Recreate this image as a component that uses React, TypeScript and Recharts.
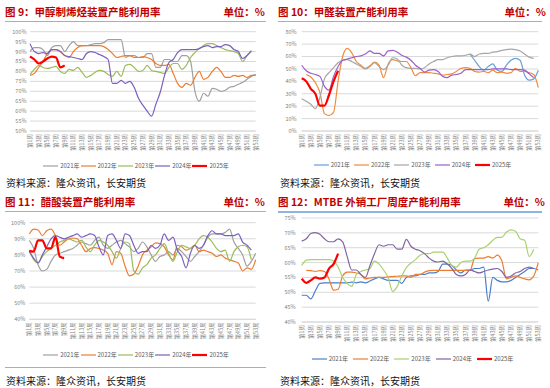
import React from "react";
import { CartesianGrid, Legend, Line, LineChart, XAxis, YAxis } from "recharts";

const weeks = Array.from({ length: 53 }, (_, i) => `第${i + 1}周`);

// 图9 甲醇制烯烃
const olefin2021 = [
  90, 92, 92, 91, 88, 92, 93, 93, 90, 93,
  95, 93, 93, 93, 93.5, 94, 94, 94.5, 96, 96,
  96, 96, 87, 88, 88, 87, 87, 89, 89, 82,
  82, 86, 86, 85, 85, 88, 88, 85,
  70, 65, 69, 67.5, 71.5, 71, 70, 70.5, 72, 72.5, 73.5, 74.5, 76, 77.5, 78.5,
];
const olefin2022 = [
  78, 79, 82, 85, 89, 91, 91, 90, 88, 87,
  90, 92, 93, 93, 93, 93, 93, 92.5, 91, 89,
  87, 87.5, 88, 88, 87, 87, 87.5, 87, 86, 84,
  83, 83, 83.5, 79, 74, 72, 74, 73, 77, 80,
  76, 77, 80, 82, 80, 77, 77, 78, 77.5, 78,
  77, 78, 78,
];
const olefin2023 = [
  78.5, 81, 83, 82, 81.5, 82, 82.5, 80, 79, 81,
  80.5, 82, 79.5, 77, 78, 79.5, 80.5, 80, 78.5, 77.5,
  80, 77.5, 83, 83.5, 82, 80, 80.5, 83, 80.5, 80,
  79.5, 79, 82, 84, 84, 81, 83, 87, 89.5, 91.5,
  93, 94, 94, 93, 92, 91, 90.5, 90, 89, 85,
  88, 90, null,
];
const olefin2024 = [
  94, 90, 89, 89.5, 89, 91, 91, 90, 88, 87.5,
  87, 86.5, 86, 89, 90, 89.5, 88.5, 87.5, 86, 74,
  74, 75.5, 74, 75, 72, 66.5, 63, 60, 57.5, 63.5,
  69.5, 78, 84.5, 86, 89.5, 91, 91, 91, 91, 91.5,
  92.5, 93, 92, 92.5, 92.5, 93.5, 93, 91, 90, 86.5,
  88, 90.5, null,
];
const olefin2025 = [87.5, 86, 84, 85, 86.5, 87.5, 87, 82, 83];

// 图10 甲醛
const formaldehyde2021 = [
  null, null, null, null, null, null, null, null, null, null,
  null, null, null, null, null, null, null, null, null, null,
  null, null, null, null, null, null, null, null, null, null,
  null, null, null, null, null, null, null,
  62, 57, 52, 49, 52, 54, 49, 48, 53, 57, 58.5, 57, 45, 41, 42, 49,
];
const formaldehyde2022 = [
  null, 45.5, 43.5, 39, 31, 14, 12.5, 15, 40, 60,
  66.5, 63, 56, 53, 50.5, 52.5, 55.5, 53, 43, 54,
  57.5, 56.5, 56, 56, 51, 44.5, 47, 47, 47, 46.5,
  46, 45, 45.5, 46, 48, 50.5, 51, 50.5, 48, 47.5,
  48, 47, 49, 47, 47.5, 46.5, 47, 50.5, 48, 48,
  47, 45.5, 35,
];
const formaldehyde2023 = [
  26, 24, 21.5, 18, 27, 42, 47, 51, 55, 57,
  57.5, 56, 54, 52, 50, 52, 55, 52, 49.5, 53,
  59, 58, 53, 51, 50.5, 50.5, 50, 51, 54, 56,
  57.5, 57.5, 59, 60, 60.5, 60.5, 61, 62, 60, 62,
  62.5, 62.5, 63.5, 64, 65, 65.5, 66, 65.5, 64.5, 62,
  59.5, 58.5, null,
];
const formaldehyde2024 = [
  53, 48.5, 46.5, 45.5, 44, 36, 33, 44, 52, 57,
  58, 59, 60, 60.5, 62, 64.5, 62.5, 62.5, 60.5, 64.5,
  65, 63.5, 61, 59.5, 57, 53, 50.5, 47.5, 49, 49.5,
  48, 44, 43, 45, 45.5, 46.5, 49.5, 49.5, 49.5, 49.5,
  49.5, 49.5, 50, 50, 50, 50, 49.5, 49.5, 49.5, 49,
  46, 43, null,
];
const formaldehyde2025 = [42.5, 40, 34, 30, 20.5, 20.5, 29, 40, 48.5];

// 图11 醋酸
const acetic2021 = [
  89, 84, 74, 70, 71, 76, 80, 81, 82, 83,
  84, 86, 88, 87, 86, 89, 91, 86, 84, 86,
  88, 89, 87, 85, 82, 84, 88, 85, 80, 76,
  79, 80, 82, 80, 84, 82, 79, 76, 79, 82,
  86, 91, 93, 93, 93, 94, 96, 88, 84, 80,
  73, 76, 81,
];
const acetic2022 = [
  93, 96, 95.5, 92, 95, 96, 92, 86, 88, 90,
  90.5, 90, 86, 82, 84, 84.5, 84, 83, 81, 74,
  82, 81, 73, 67, 68, 73, 80, 83, 85, 87.5,
  87, 85, 80, 77, 86, 85, 83, 84, 86, 82,
  83, 82, 81, 79, 80, 78, 77, 76, 75, 70,
  72, 71, 77,
];
const acetic2023 = [
  83, 77, 75, 79, 82, 84, 86, 88, 89, 90,
  89, 88, 89, 85, 82, 86, 89, 88, 86, 82,
  78, 84, 88, 87, 70, 68, 72, 74, 78, 80,
  84, 87, 81, 76, 82, 86, 85, 84, 86, 90,
  92, 91, 88, 84, 82, 83, 76, 82, 85, 86,
  85, 77, null,
];
const acetic2024 = [
  82, 78, 75, 80, 85, 90, 92, 91, 90, 91,
  92, 93, 91, 92, 93, 92, 85, 80, 92, 93,
  89, 84, 93, 92, 86, 81, 82, 82, 86, 84,
  86, 93, 89, 91, 83, 79, 72, 81, 86, 84,
  86, 92, 95, 93, 93, 92, 92, 92, 93, 88,
  86, 83, null,
];
const acetic2025 = [82.5, 82, 89, 89, 84, 84, 91, 79, 78];

// 图12 MTBE
const mtbe2021 = [
  49, 49, 47.8, 50.5, 53, 53.2, 53.2, 53.2, 53.2, 53.2,
  53.2, 53.4, 53.2, 53.5, 53.2, 53.8, 54.5, 55, 54.5, 54,
  54, 54, 53, 55, 55.5, 55.5, 56, 56, 56.5, 56.5,
  57, 59.5, 59.5, 59, 57.5, 56.5, 57.5, 57.5, 58, 58,
  58.5, 47, 55, 54, 53.5, 53.5, 54, 55, 56, 57,
  58, 58, 57.5,
];
const mtbe2022 = [
  null, 57.4, 57.3, 57, 57.3, 57, 54.5, 50.7, 51, 55.5,
  56.8, 56.8, 56.5, 56, 54.5, 54.8, 55, 55, 55, 55.2,
  55.3, 55.4, 55.5, 55.5, 55, 56, 56, 56.8, 57.3, 57.4,
  57.4, 57.4, 57.4, 57.4, 57.4, 57.4, 57.4, 57.4, 61.3, 61.5,
  61.5, 62, 61.5, 62.5, 60.5, 54.5, 55, 55.5, 55, 54.5,
  54.2, 55.5, 60,
];
const mtbe2023 = [
  59, 60.8, 61, 61, 61, 61, 61, 60.5, 58.5, 55,
  53, 52, 56, 57, 57.5, 58, 60.5, 59.5, 57.5, 55,
  50.3, 52, 55.5, 58.3, 59.8, 61, 62.5, 63, 63, 63.5,
  63.5, 63.5, 61.5, 59, 58.5, 60, 60.5, 60.5, 61.5, 64.5,
  65, 66, 67.5, 68.5, 68.5, 70.3, 71, 70.5, 68, 67.5,
  62, 64.5, null,
];
const mtbe2024 = [
  67.2, 68, 69.8, 70.1, 69.5, 68, 67, 67, 68, 67,
  62, 57.5, 57.5, 56, 55, 59, 63, 66, 65.5, 66,
  66, 64.5, 64.5, 67.8, 65.5, 64.5, 64, 63, 61.5, 60.5,
  60.2, 60.5, 59.5, 58, 56, 55.5, 56, 57.5, 57, 56.5,
  57, 57.5, 57.8, 58, 57, 55, 55.5, 56.5, 57, 58,
  58.5, 58, null,
];
const mtbe2025 = [54.6, 53.2, 54, 55, 54.6, 55, 58, 59.5, 63];

const years = ["2021年", "2022年", "2023年", "2024年", "2025年"];

const ticks9 = [50, 55, 60, 65, 70, 75, 80, 85, 90, 95, 100];
const ticks10 = [0, 10, 20, 30, 40, 50, 60, 70, 80];
const ticks11 = [40, 50, 60, 70, 80, 90, 100];
const ticks12 = [40, 45, 50, 55, 60, 65, 70, 75];

type Series = { key: string; name: string; color: string; width: number; values: (number | null)[] };

const makeSeries = (values: (number | null)[][], colors: string[]): Series[] =>
  values.map((v, i) => ({
    key: `y${i}`,
    name: years[i],
    color: colors[i],
    width: i === 4 ? 2.2 : 1.2,
    values: v,
  }));

const FONT = '"Noto Sans CJK SC", "Noto Sans", sans-serif';

const WeekTick = (props: any) => {
  const { x, y, payload } = props;
  return (
    <text
      x={x}
      y={y}
      transform={`rotate(-90 ${x} ${y})`}
      textAnchor="end"
      dominantBaseline="central"
      fontSize={5.5}
      fill="#7f7f7f"
      fontFamily={FONT}
    >
      {payload.value}
    </text>
  );
};

type PanelProps = {
  left: number;
  top: number;
  width: number;
  series: Series[];
  ticks: number[];
  yWidth: number;
  tickGap: number;
  margin: { top: number; right: number; bottom: number; left: number };
  legendTop: number;
  legendGap: number;
};

function Panel({ left, top, width, series, ticks, yWidth, tickGap, margin, legendTop, legendGap }: PanelProps) {
  const rows = weeks.map((week, i) => {
    const row: Record<string, string | number | null> = { week };
    series.forEach((s) => {
      row[s.key] = s.values[i] ?? null;
    });
    return row;
  });

  const legend = () => (
    <div
      style={{
        display: "flex",
        justifyContent: "center",
        alignItems: "center",
        gap: legendGap,
        fontSize: 6,
        lineHeight: "8px",
        color: "#595959",
        fontFamily: FONT,
      }}
    >
      {series.map((s) => (
        <span key={s.key} style={{ display: "flex", alignItems: "center", gap: 2 }}>
          <svg width={15} height={4}>
            <line x1={0} y1={2} x2={15} y2={2} stroke={s.color} strokeWidth={s.width} />
          </svg>
          {s.name}
        </span>
      ))}
    </div>
  );

  return (
    <div style={{ position: "absolute", left, top }}>
      <LineChart width={width} height={150} data={rows} margin={margin}>
        <CartesianGrid vertical={false} stroke="#d9d9d9" />
        <XAxis
          dataKey="week"
          interval={1}
          tick={<WeekTick />}
          tickLine={false}
          tickSize={0}
          tickMargin={3}
          height={25}
          axisLine={{ stroke: "#d9d9d9" }}
        />
        <YAxis
          domain={[ticks[0], ticks[ticks.length - 1]]}
          ticks={ticks}
          width={yWidth}
          axisLine={false}
          tickLine={false}
          tickSize={0}
          tickMargin={tickGap}
          tickFormatter={(v) => `${v}%`}
          tick={{ fontSize: 5.5, fill: "#7f7f7f", fontFamily: FONT }}
          interval={0}
        />
        <Legend
          verticalAlign="middle"
          align="center"
          content={legend}
          wrapperStyle={{ top: legendTop, left: 0, width }}
        />
        {series.map((s) => (
          <Line
            key={s.key}
            dataKey={s.key}
            name={s.name}
            type="monotone"
            stroke={s.color}
            strokeWidth={s.width}
            dot={false}
            activeDot={false}
            isAnimationActive={false}
          />
        ))}
      </LineChart>
    </div>
  );
}

const titleStyle: React.CSSProperties = {
  position: "absolute",
  fontSize: 10.5,
  lineHeight: "14px",
  fontWeight: 700,
  color: "#c00000",
  fontFamily: FONT,
  whiteSpace: "pre",
};

const sourceStyle: React.CSSProperties = {
  position: "absolute",
  fontSize: 10,
  lineHeight: "14px",
  color: "#111",
  fontFamily: FONT,
  whiteSpace: "pre",
};

const rule = (left: number, top: number, width: number) => (
  <div style={{ position: "absolute", left, top, width, height: 1.5, background: "#8eb4e3" }} />
);

export default function App() {
  const s9 = makeSeries(
    [olefin2021, olefin2022, olefin2023, olefin2024, olefin2025],
    ["#a0a0a0", "#ed7d31", "#9bbb59", "#7b5fbf", "#ff0000"]
  );
  const s10 = makeSeries(
    [formaldehyde2021, formaldehyde2022, formaldehyde2023, formaldehyde2024, formaldehyde2025],
    ["#6a9fd8", "#f08c3c", "#a6a6a6", "#9a5fc9", "#ff0000"]
  );
  const s11 = makeSeries(
    [acetic2021, acetic2022, acetic2023, acetic2024, acetic2025],
    ["#a0a0a0", "#ed7d31", "#9bbb59", "#7b5fbf", "#ff0000"]
  );
  const s12 = makeSeries(
    [mtbe2021, mtbe2022, mtbe2023, mtbe2024, mtbe2025],
    ["#4a7ecb", "#ed7d31", "#a9d16e", "#8064a2", "#ff0000"]
  );

  return (
    <div
      style={{
        position: "absolute",
        left: 0,
        top: 0,
        width: 550,
        height: 388,
        background: "#fff",
        overflow: "hidden",
      }}
    >
      <div style={{ ...titleStyle, left: 5, top: 4.5 }}>图 9：甲醇制烯烃装置产能利用率</div>
      <div style={{ ...titleStyle, right: 550 - 265, top: 4.5 }}>单位：%</div>
      {rule(5, 20.5, 261)}
      <Panel
        left={0}
        top={22}
        width={272}
        series={s9}
        ticks={ticks9}
        yWidth={30}
        tickGap={3.5}
        margin={{ top: 9.7, right: 16.3, bottom: 16, left: 0 }}
        legendTop={140}
        legendGap={1}
      />
      <div style={{ ...sourceStyle, left: 6, top: 175.5 }}>资料来源：隆众资讯，长安期货</div>

      <div style={{ ...titleStyle, left: 278, top: 4.5 }}>图 10：甲醛装置产能利用率</div>
      <div style={{ ...titleStyle, right: 4, top: 4.5 }}>单位：%</div>
      {rule(278, 20.5, 264)}
      <Panel
        left={275}
        top={22}
        width={275}
        series={s10}
        ticks={ticks10}
        yWidth={26.7}
        tickGap={5}
        margin={{ top: 9.7, right: 11.7, bottom: 16, left: 0 }}
        legendTop={139.3}
        legendGap={4}
      />
      <div style={{ ...sourceStyle, left: 280, top: 176 }}>资料来源：隆众资讯，长安期货</div>

      <div style={{ ...titleStyle, left: 5, top: 195 }}>图 11：醋酸装置产能利用率</div>
      <div style={{ ...titleStyle, right: 550 - 265, top: 195 }}>单位：%</div>
      {rule(5, 210.5, 261)}
      <Panel
        left={0}
        top={212}
        width={272}
        series={s11}
        ticks={ticks11}
        yWidth={29.3}
        tickGap={4}
        margin={{ top: 10.7, right: 16.3, bottom: 17.7, left: 0 }}
        legendTop={138.5}
        legendGap={1}
      />
      {rule(5, 366.5, 261)}
      <div style={{ ...sourceStyle, left: 6, top: 374 }}>资料来源：隆众资讯，长安期货</div>

      <div style={{ ...titleStyle, left: 278, top: 195 }}>图 12：MTBE 外销工厂周度产能利用率</div>
      <div style={{ ...titleStyle, right: 5, top: 195 }}>单位：%</div>
      {rule(278, 211, 264)}
      <Panel
        left={275}
        top={212}
        width={275}
        series={s12}
        ticks={ticks12}
        yWidth={26.7}
        tickGap={6}
        margin={{ top: 6, right: 11.7, bottom: 15, left: 0 }}
        legendTop={142.5}
        legendGap={5}
      />
      <div style={{ ...sourceStyle, left: 280, top: 373.5 }}>资料来源：隆众资讯，长安期货</div>
    </div>
  );
}
